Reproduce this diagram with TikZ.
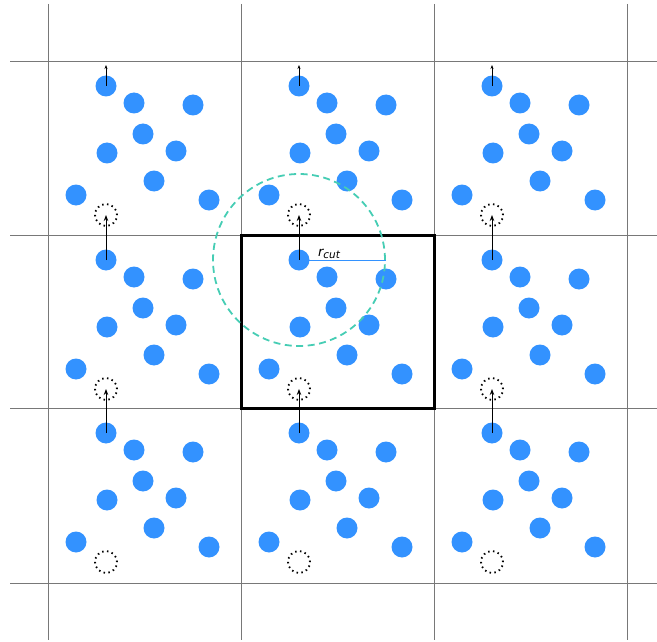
\documentclass[tikz,border=0pt]{standalone}
\usepackage{fontspec}
\newfontfamily\dvs{DejaVu Sans}
\usetikzlibrary{arrows.meta}
\definecolor{pblue}{RGB}{51,146,255}
\definecolor{cteal}{RGB}{70,205,180}
\definecolor{gline}{RGB}{120,120,120}
\begin{document}
\begin{tikzpicture}[x=1pt,y=-1pt,
  gridline/.style={draw=gline, line width=0.9pt},
  particle/.style={circle, fill=pblue, minimum size=21pt, inner sep=0pt, outer sep=0pt},
  ghost/.style={circle, draw=black, line width=1.8pt, dash pattern=on 1.5pt off 3.4pt, minimum size=22pt, inner sep=0pt, outer sep=0pt},
  shiftarrow/.style={-{Stealth[length=6pt,width=4.5pt]}, line width=1pt},
  smallarrow/.style={-{Stealth[length=4pt,width=3pt]}, line width=0.7pt},
  boxline/.style={draw=black, line width=3pt},
  cutcircle/.style={circle, draw=cteal, line width=1.8pt, dash pattern=on 7pt off 4.5pt, minimum size=172pt, inner sep=0pt},
  cutline/.style={draw=pblue, line width=1pt},
]
\useasboundingbox (0,0) rectangle (657,642);
% periodic cell grid
\foreach \x in {48,241,434,627} \draw[gridline] (\x,4) -- (\x,640);
\foreach \y in {61,235,408,583} \draw[gridline] (10,\y) -- (657,\y);
% central simulation box
\draw[boxline] (241,235) rectangle (434,408);
% particles in each periodic image
\foreach \cx/\x in {0/48,1/241,2/434} {
  \foreach \cy/\y in {0/61,1/235,2/408} {
    \begin{scope}[shift={(\x,\y)}]
      \node[particle] (p1-\cx-\cy) at (58,25) {};
      \node[particle] (p2-\cx-\cy) at (86,42) {};
      \node[particle] (p3-\cx-\cy) at (145,44) {};
      \node[particle] (p4-\cx-\cy) at (95,73) {};
      \node[particle] (p5-\cx-\cy) at (59,92) {};
      \node[particle] (p6-\cx-\cy) at (128,90) {};
      \node[particle] (p7-\cx-\cy) at (106,120) {};
      \node[particle] (p8-\cx-\cy) at (28,134) {};
      \node[particle] (p9-\cx-\cy) at (161,139) {};
      \node[ghost] (g-\cx-\cy) at (58,154) {};
      \coordinate (t-\cx-\cy) at (58,4);
    \end{scope}
  }
}
% arrows: particle leaving through the top
\foreach \cx in {0,1,2} {
  \draw[smallarrow] (p1-\cx-0.center) -- (t-\cx-0);
  \draw[shiftarrow] (p1-\cx-1.center) -- (g-\cx-0.center);
  \draw[shiftarrow] (p1-\cx-2.center) -- (g-\cx-1.center);
}
% cutoff radius
\node[cutcircle] (cut) at (p1-1-1.center) {};
\draw[cutline] (p1-1-1.center) -- (cut.east)
  node[pos=0.345, above=0pt, inner sep=1pt] (rc) {\dvs\itshape\fontsize{13}{13}\selectfont r\raisebox{-1.6pt}{\fontsize{10.5}{11}\selectfont cut}};
\end{tikzpicture}
\end{document}
